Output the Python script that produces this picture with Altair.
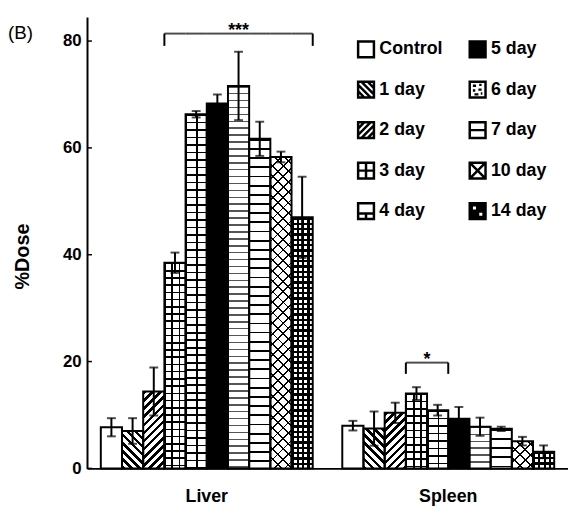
import math
import altair as alt
import pandas as pd

# ---------------- data ----------------
organs = ["Liver", "Spleen"]
days = ["Control", "1 day", "2 day", "3 day", "4 day",
        "5 day", "6 day", "7 day", "10 day", "14 day"]
liver_mean = [7.7, 7.0, 14.4, 38.5, 66.3, 68.3, 71.6, 61.7, 58.3, 47.0]
liver_err = [1.7, 2.4, 4.5, 1.9, 0.6, 1.7, 6.4, 3.2, 1.0, 7.6]
spleen_mean = [8.0, 7.45, 10.4, 14.0, 10.9, 9.3, 7.8, 7.4, 5.1, 3.1]
spleen_err = [0.9, 3.2, 1.9, 1.2, 1.0, 2.2, 1.7, 0.4, 0.8, 1.2]
y_ticks = [0, 20, 40, 60, 80]

bracket_organ = ["Liver", "Spleen"]
bracket_from = ["3 day", "3 day"]
bracket_to = ["14 day", "4 day"]
bracket_top = [81.4, 19.8]
bracket_foot = [79.1, 17.7]
bracket_label = ["***", "*"]

# ---------------- layout / style ----------------
W, H = 487, 457
Y_MAX = 84.5
PAD_IN, PAD_OUT = 0.1224, 0.0571
step = W / (len(organs) - PAD_IN + 2 * PAD_OUT)
bw = step * (1 - PAD_IN) / len(days)
px_per_unit = H / Y_MAX
FONT = "Liberation Sans"
BLACK, WHITE, CLEAR = "#000000", "#ffffff", "rgba(255,255,255,0)"
SQ2 = math.sqrt(2)

PATTERNS = {
    "Control": [("solid", WHITE)],
    "1 day": [("bs", 5.8, 2.6, BLACK, WHITE)],
    "2 day": [("fs", 5.8, 2.6, BLACK, WHITE)],
    "3 day": [("h", 7.3, 1.6, BLACK, WHITE), ("v", bw / 3, 1.6, BLACK, CLEAR)],
    "4 day": [("h", 7.6, 1.6, BLACK, WHITE), ("v", bw / 2, 1.6, BLACK, CLEAR)],
    "5 day": [("solid", BLACK)],
    "6 day": [("h", 7.0, 1.6, "#555555", WHITE)],
    "7 day": [("h", 9.3, 1.8, BLACK, WHITE)],
    "10 day": [("bs", 7.5, 1.3, BLACK, WHITE), ("fs", 7.5, 1.3, BLACK, CLEAR)],
    "14 day": [("h", 5.4, 2.2, BLACK, WHITE), ("v", bw / 4, 2.2, BLACK, CLEAR)],
}

sq = "M-1,-1H1V1H-1Z"


def bs_lines(cs):
    out = ""
    for c in cs:
        y1, y2 = max(-1, -1 - c), min(1, 1 - c)
        out += f"M{y1 + c:.2f},{y1:.2f}L{y2 + c:.2f},{y2:.2f}"
    return out


def fs_lines(cs):
    out = ""
    for c in cs:
        y1, y2 = max(-1, c - 1), min(1, c + 1)
        out += f"M{c - y1:.2f},{y1:.2f}L{c - y2:.2f},{y2:.2f}"
    return out


LEG_SHAPE = {
    "Control": sq,
    "1 day": sq + bs_lines([-1.2, -0.4, 0.4, 1.2]),
    "2 day": sq + fs_lines([-1.2, -0.4, 0.4, 1.2]),
    "3 day": sq + "M0,-1V1M-1,0H1",
    "4 day": sq + "M-1,0.3H1M0,0.3V1",
    "5 day": sq,
    "6 day": sq + "M-0.6,-0.5H-0.2M0.2,-0.6H0.5M-0.6,0.1H-0.3M0.1,0H0.5M-0.4,0.6H0.1M0.4,0.5H0.6",
    "7 day": sq + "M-1,0H1",
    "10 day": sq + "M-1,-1L1,1M1,-1L-1,1",
    "14 day": sq + "M-0.75,-0.75V-0.05H-0.05V-0.75ZM0.05,0.05V0.75H0.75V0.05Z",
}
LEG_FILL = {d: WHITE for d in days}
LEG_FILL["5 day"] = BLACK
LEG_FILL["14 day"] = BLACK


def stripe_stops(L, period, thick, on, off):
    out = []
    pos = 0.0
    while pos < L - 1e-9:
        a = pos / L
        b = min(pos + thick, L) / L
        c = min(pos + period, L) / L
        out += [(a, on), (b, on)]
        if b < c:
            out += [(b, off), (c, off)]
        pos += period
    return [{"offset": round(o, 5), "color": col} for o, col in out]


def make_fill(spec, w, h):
    if spec[0] == "solid":
        return spec[1]
    kind, period, thick, on, off = spec
    if kind == "h":
        L, g = h, dict(x1=0, y1=0, x2=0, y2=1)
    elif kind == "v":
        L, g = w, dict(x1=0, y1=0, x2=1, y2=0)
    else:
        L = w + h
        s = (w + h) / (w * w + h * h)
        period, thick = period * SQ2, thick * SQ2
        if kind == "bs":
            g = dict(x1=0, y1=1, x2=s * w, y2=1 - s * h)
        else:
            g = dict(x1=0, y1=0, x2=s * w, y2=s * h)
    g = {k: round(v, 5) for k, v in g.items()}
    return dict(gradient="linear", stops=stripe_stops(L, period, thick, on, off), **g)


# ---------------- tables ----------------
rows = []
for organ, means, errs in [("Liver", liver_mean, liver_err),
                           ("Spleen", spleen_mean, spleen_err)]:
    for d, m, e in zip(days, means, errs):
        rows.append(dict(organ=organ, day=d, value=m, lo=m - e, hi=m + e))
df = pd.DataFrame(rows)

bdf = pd.DataFrame(dict(organ=bracket_organ, start=bracket_from, end=bracket_to,
                        top=bracket_top, foot=bracket_foot, label=bracket_label))
hrows = []
for _, b in bdf.iterrows():
    i0, i1 = days.index(b.start), days.index(b.end)
    for d in days[i0:i1 + 1]:
        hrows.append(dict(organ=b.organ, day=d, top=b.top))
hdf = pd.DataFrame(hrows)

# ---------------- encodings ----------------
x_axis = alt.Axis(title=None, domainWidth=2, domainColor=BLACK, ticks=False,
                  labelFont=FONT, labelFontSize=18, labelFontWeight="bold",
                  labelColor=BLACK, labelPadding=20, labelAngle=0)
y_axis = alt.Axis(title="%Dose", values=y_ticks, domainWidth=2, domainColor=BLACK,
                  ticks=False, grid=False, labelFont=FONT, labelFontSize=17,
                  labelFontWeight="bold", labelColor=BLACK, labelPadding=6,
                  titleFont=FONT, titleFontSize=20, titleFontWeight="bold",
                  titleColor=BLACK, titleX=-65, titleY=242, titleAngle=270,
                  titleAlign="center", titleBaseline="middle")


def X(**kw):
    return alt.X("organ:N", scale=alt.Scale(domain=organs, paddingInner=PAD_IN,
                                            paddingOuter=PAD_OUT),
                 axis=x_axis, **kw)


def XO():
    return alt.XOffset("day:N", scale=alt.Scale(domain=days, paddingInner=0,
                                                paddingOuter=0))


def Y(field):
    return alt.Y(f"{field}:Q", scale=alt.Scale(domain=[0, Y_MAX], nice=False, zero=True),
                 axis=y_axis)


base = alt.Chart(df)
layers = []

# patterned bars
for _, r in df.iterrows():
    hpx = r.value * px_per_unit
    for spec in PATTERNS[r.day]:
        layers.append(
            base.transform_filter(f"datum.organ == '{r.organ}' && datum.day == '{r.day}'")
            .mark_bar(fill=make_fill(spec, bw, hpx))
            .encode(x=X(), xOffset=XO(), y=Y("value"))
        )

# outlines
layers.append(base.mark_bar(fillOpacity=0, stroke=BLACK, strokeWidth=2)
              .encode(x=X(), xOffset=XO(), y=Y("value")))

# error bars
layers.append(base.mark_rule(color=BLACK, strokeWidth=2)
              .encode(x=X(), xOffset=XO(), y=Y("lo"), y2="hi"))
for f in ["hi", "lo"]:
    layers.append(base.mark_tick(color=BLACK, thickness=2, size=9, orient="horizontal")
                  .encode(x=X(), xOffset=XO(), y=Y(f)))

# brackets
layers.append(alt.Chart(hdf).mark_tick(color=BLACK, thickness=2, size=bw,
                                       orient="horizontal")
              .encode(x=X(), xOffset=XO(), y=Y("top")))
for _, b in bdf.iterrows():
    i0, i1 = days.index(b.start), days.index(b.end)
    n = len(days)
    sel = alt.Chart(bdf).transform_filter(f"datum.organ == '{b.organ}'")
    for pos in [i0 / n, (i1 + 1) / n]:
        layers.append(sel.mark_rule(color=BLACK, strokeWidth=2)
                      .encode(x=X(bandPosition=pos), y=Y("foot"), y2="top"))
    layers.append(sel.mark_text(font=FONT, fontSize=18, fontWeight="bold", color=BLACK,
                                baseline="alphabetic", dy=2)
                  .encode(x=X(bandPosition=(i0 + i1 + 1) / (2 * n)), y=Y("top"),
                          text="label:N"))

# inward y ticks
layers.append(alt.Chart(pd.DataFrame({"tick": y_ticks}))
              .mark_rule(color=BLACK, strokeWidth=1.5)
              .encode(x=alt.value(0), x2=alt.value(5), y=Y("tick")))

# legend (from scale domain only)
leg = alt.Legend(title=None, orient="none", legendX=273, legendY=23, columns=2,
                 symbolSize=256, symbolStrokeWidth=2.5, symbolStrokeColor=BLACK,
                 symbolOpacity=1, labelFont=FONT, labelFontSize=18,
                 labelFontWeight="bold", labelColor=BLACK, labelOffset=4,
                 rowPadding=14, columnPadding=22, padding=0, labelLimit=200)
layers.append(
    base.transform_filter("false")
    .mark_point(stroke=BLACK, strokeWidth=2.5, opacity=1)
    .encode(x=X(), y=Y("value"),
            shape=alt.Shape("day:N", scale=alt.Scale(domain=days,
                                                     range=[LEG_SHAPE[d] for d in days]),
                            legend=leg),
            fill=alt.Fill("day:N", scale=alt.Scale(domain=days,
                                                   range=[LEG_FILL[d] for d in days]),
                          legend=leg),
            stroke=alt.Stroke("day:N", scale=alt.Scale(domain=days,
                                                       range=[BLACK] * len(days)),
                              legend=leg))
)

chart = alt.layer(*layers).properties(
    width=W, height=H,
    padding={"left": 80, "top": 6, "right": 0, "bottom": 40},
    autosize=alt.AutoSizeParams(type="none"),
    title=alt.TitleParams(text="(B)", anchor="start", frame="group", orient="top",
                          offset=0, dx=-80, dy=41, baseline="alphabetic",
                          font=FONT, fontSize=19, fontWeight="normal", color=BLACK),
).configure_view(strokeWidth=0)

chart.save("out.html", embed_options={"renderer": "svg", "actions": False})
